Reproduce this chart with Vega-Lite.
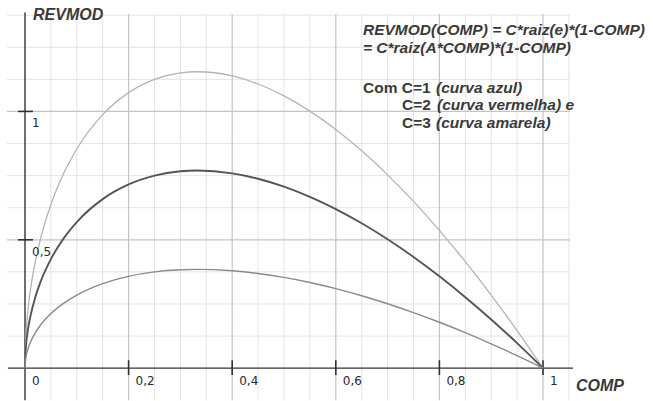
{
  "$schema": "https://vega.github.io/schema/vega-lite/v6.json",
  "width": 653,
  "height": 401,
  "autosize": {"type": "fit", "contains": "padding"},
  "padding": 0,
  "background": "white",
  "config": {"view": {"stroke": null}},
  "datasets": {
    "one": [{"k": 1}],
    "minorX": [{"v":0.05},{"v":0.1},{"v":0.15},{"v":0.25},{"v":0.3},{"v":0.35},{"v":0.45},{"v":0.5},{"v":0.55},{"v":0.65},{"v":0.7},{"v":0.75},{"v":0.85},{"v":0.9},{"v":0.95},{"v":1.05}],
    "majorX": [{"v":0.2},{"v":0.4},{"v":0.6},{"v":0.8},{"v":1.0}],
    "minorY": [{"v":0.125},{"v":0.25},{"v":0.375},{"v":0.625},{"v":0.75},{"v":0.875},{"v":1.125},{"v":1.25},{"v":1.375}],
    "majorY": [{"v":0.5},{"v":1.0}],
    "curves": [
      {"x":0,"c1":0,"c2":0,"c3":0},
      {"x":0.0005,"c1":0.02235,"c2":0.0447,"c3":0.06705},
      {"x":0.002,"c1":0.04463,"c2":0.08926,"c3":0.13389},
      {"x":0.005,"c1":0.07036,"c2":0.14072,"c3":0.21108},
      {"x":0.01,"c1":0.099,"c2":0.198,"c3":0.297},
      {"x":0.02,"c1":0.13859,"c2":0.27718,"c3":0.41577},
      {"x":0.03,"c1":0.16801,"c2":0.33602,"c3":0.50403},
      {"x":0.05,"c1":0.21243,"c2":0.42486,"c3":0.63729},
      {"x":0.075,"c1":0.25332,"c2":0.50664,"c3":0.75996},
      {"x":0.1,"c1":0.2846,"c2":0.5692,"c3":0.8538},
      {"x":0.15,"c1":0.3292,"c2":0.6584,"c3":0.9876},
      {"x":0.2,"c1":0.35777,"c2":0.71554,"c3":1.07331},
      {"x":0.25,"c1":0.375,"c2":0.75,"c3":1.125},
      {"x":0.3,"c1":0.38341,"c2":0.76682,"c3":1.15023},
      {"x":0.333,"c1":0.3849,"c2":0.7698,"c3":1.1547},
      {"x":0.4,"c1":0.37947,"c2":0.75894,"c3":1.13841},
      {"x":0.45,"c1":0.36895,"c2":0.7379,"c3":1.10685},
      {"x":0.5,"c1":0.35355,"c2":0.7071,"c3":1.06065},
      {"x":0.55,"c1":0.33373,"c2":0.66746,"c3":1.00119},
      {"x":0.6,"c1":0.30984,"c2":0.61968,"c3":0.92952},
      {"x":0.65,"c1":0.28218,"c2":0.56436,"c3":0.84654},
      {"x":0.7,"c1":0.251,"c2":0.502,"c3":0.753},
      {"x":0.75,"c1":0.21651,"c2":0.43302,"c3":0.64953},
      {"x":0.8,"c1":0.17889,"c2":0.35778,"c3":0.53667},
      {"x":0.85,"c1":0.13829,"c2":0.27658,"c3":0.41487},
      {"x":0.9,"c1":0.09487,"c2":0.18974,"c3":0.28461},
      {"x":0.95,"c1":0.04873,"c2":0.09746,"c3":0.14619},
      {"x":1.0,"c1":0,"c2":0,"c3":0}
    ],
    "xlabels": [{"v":0,"t":"0"},{"v":0.2,"t":"0,2"},{"v":0.4,"t":"0,4"},{"v":0.6,"t":"0,6"},{"v":0.8,"t":"0,8"},{"v":1.0,"t":"1"}],
    "ylabels": [{"v":0.5,"t":"0,5"},{"v":1.0,"t":"1"}],
    "italicText": [
      {"tx":0.01544,"ty":1.3566,"t":"REVMOD","sz":"big"},
      {"tx":1.0637,"ty":-0.0891,"t":"COMP","sz":"big"},
      {"tx":0.6525,"ty":1.2984,"t":"REVMOD(COMP) = C*raiz(e)*(1-COMP)","sz":"small"},
      {"tx":0.6525,"ty":1.2287,"t":"= C*raiz(A*COMP)*(1-COMP)","sz":"small"},
      {"tx":0.7934,"ty":1.0736,"t":"(curva azul)","sz":"small"},
      {"tx":0.7954,"ty":1.0039,"t":"(curva vermelha) e","sz":"small"},
      {"tx":0.7934,"ty":0.9341,"t":"(curva amarela)","sz":"small"}
    ],
    "uprightText": [
      {"tx":0.6525,"ty":1.0736,"t":"Com C=1"},
      {"tx":0.7278,"ty":1.0039,"t":"C=2"},
      {"tx":0.7278,"ty":0.9341,"t":"C=3"}
    ]
  },
  "layer": [
    {
      "data": {"name": "minorX"},
      "mark": {"type": "rule", "color": "#e4e4e4", "strokeWidth": 1},
      "encoding": {
        "x": {"field": "v", "type": "quantitative", "scale": {"domain": [-0.04826, 1.21236], "nice": false, "zero": false}, "axis": null},
        "y": {"datum": -0.125, "type": "quantitative", "scale": {"domain": [-0.12016, 1.43411], "nice": false, "zero": false}, "axis": null},
        "y2": {"datum": 1.38}
      }
    },
    {
      "data": {"name": "minorY"},
      "mark": {"type": "rule", "color": "#e4e4e4", "strokeWidth": 1},
      "encoding": {
        "y": {"field": "v", "type": "quantitative", "scale": {"domain": [-0.12016, 1.43411], "nice": false, "zero": false}, "axis": null},
        "x": {"datum": -0.035, "type": "quantitative", "scale": {"domain": [-0.04826, 1.21236], "nice": false, "zero": false}, "axis": null},
        "x2": {"datum": 1.052}
      }
    },
    {
      "data": {"name": "majorX"},
      "mark": {"type": "rule", "color": "#c4c4c4", "strokeWidth": 1.2},
      "encoding": {
        "x": {"field": "v", "type": "quantitative", "scale": {"domain": [-0.04826, 1.21236], "nice": false, "zero": false}, "axis": null},
        "y": {"datum": -0.125, "type": "quantitative", "scale": {"domain": [-0.12016, 1.43411], "nice": false, "zero": false}, "axis": null},
        "y2": {"datum": 1.38}
      }
    },
    {
      "data": {"name": "majorY"},
      "mark": {"type": "rule", "color": "#c4c4c4", "strokeWidth": 1.2},
      "encoding": {
        "y": {"field": "v", "type": "quantitative", "scale": {"domain": [-0.12016, 1.43411], "nice": false, "zero": false}, "axis": null},
        "x": {"datum": -0.035, "type": "quantitative", "scale": {"domain": [-0.04826, 1.21236], "nice": false, "zero": false}, "axis": null},
        "x2": {"datum": 1.052}
      }
    },
    {
      "data": {"name": "one"},
      "mark": {"type": "rule", "color": "#333333", "strokeWidth": 1.4},
      "encoding": {
        "y": {"datum": 0, "type": "quantitative", "scale": {"domain": [-0.12016, 1.43411], "nice": false, "zero": false}, "axis": null},
        "x": {"datum": -0.033, "type": "quantitative", "scale": {"domain": [-0.04826, 1.21236], "nice": false, "zero": false}, "axis": null},
        "x2": {"datum": 1.058}
      }
    },
    {
      "data": {"name": "one"},
      "mark": {"type": "rule", "color": "#333333", "strokeWidth": 1.4},
      "encoding": {
        "x": {"datum": 0, "type": "quantitative", "scale": {"domain": [-0.04826, 1.21236], "nice": false, "zero": false}, "axis": null},
        "y": {"datum": -0.125, "type": "quantitative", "scale": {"domain": [-0.12016, 1.43411], "nice": false, "zero": false}, "axis": null},
        "y2": {"datum": 1.385}
      }
    },
    {
      "data": {"name": "majorX"},
      "mark": {"type": "rule", "color": "#333333", "strokeWidth": 1.6},
      "encoding": {
        "x": {"field": "v", "type": "quantitative", "scale": {"domain": [-0.04826, 1.21236], "nice": false, "zero": false}, "axis": null},
        "y": {"datum": -0.027, "type": "quantitative", "scale": {"domain": [-0.12016, 1.43411], "nice": false, "zero": false}, "axis": null},
        "y2": {"datum": 0.031}
      }
    },
    {
      "data": {"name": "majorY"},
      "mark": {"type": "rule", "color": "#333333", "strokeWidth": 1.6},
      "encoding": {
        "y": {"field": "v", "type": "quantitative", "scale": {"domain": [-0.12016, 1.43411], "nice": false, "zero": false}, "axis": null},
        "x": {"datum": -0.0135, "type": "quantitative", "scale": {"domain": [-0.04826, 1.21236], "nice": false, "zero": false}, "axis": null},
        "x2": {"datum": 0.0154}
      }
    },
    {
      "data": {"name": "curves"},
      "mark": {"type": "line", "color": "#b4b4b4", "strokeWidth": 1.3, "interpolate": "monotone"},
      "encoding": {
        "x": {"field": "x", "type": "quantitative", "scale": {"domain": [-0.04826, 1.21236], "nice": false, "zero": false}, "axis": null},
        "y": {"field": "c3", "type": "quantitative", "scale": {"domain": [-0.12016, 1.43411], "nice": false, "zero": false}, "axis": null}
      }
    },
    {
      "data": {"name": "curves"},
      "mark": {"type": "line", "color": "#555555", "strokeWidth": 1.9, "interpolate": "monotone"},
      "encoding": {
        "x": {"field": "x", "type": "quantitative", "scale": {"domain": [-0.04826, 1.21236], "nice": false, "zero": false}, "axis": null},
        "y": {"field": "c2", "type": "quantitative", "scale": {"domain": [-0.12016, 1.43411], "nice": false, "zero": false}, "axis": null}
      }
    },
    {
      "data": {"name": "curves"},
      "mark": {"type": "line", "color": "#8a8a8a", "strokeWidth": 1.4, "interpolate": "monotone"},
      "encoding": {
        "x": {"field": "x", "type": "quantitative", "scale": {"domain": [-0.04826, 1.21236], "nice": false, "zero": false}, "axis": null},
        "y": {"field": "c1", "type": "quantitative", "scale": {"domain": [-0.12016, 1.43411], "nice": false, "zero": false}, "axis": null}
      }
    },
    {
      "data": {"name": "xlabels"},
      "mark": {"type": "text", "font": "DejaVu Sans", "fontSize": 12, "color": "#2a2a2a", "align": "left", "baseline": "alphabetic", "dx": 7, "dy": 17},
      "encoding": {
        "x": {"field": "v", "type": "quantitative", "scale": {"domain": [-0.04826, 1.21236], "nice": false, "zero": false}, "axis": null},
        "y": {"datum": 0, "type": "quantitative", "scale": {"domain": [-0.12016, 1.43411], "nice": false, "zero": false}, "axis": null},
        "text": {"field": "t"}
      }
    },
    {
      "data": {"name": "ylabels"},
      "mark": {"type": "text", "font": "DejaVu Sans", "fontSize": 12, "color": "#2a2a2a", "align": "left", "baseline": "alphabetic", "dx": 7, "dy": 16},
      "encoding": {
        "y": {"field": "v", "type": "quantitative", "scale": {"domain": [-0.12016, 1.43411], "nice": false, "zero": false}, "axis": null},
        "x": {"datum": 0, "type": "quantitative", "scale": {"domain": [-0.04826, 1.21236], "nice": false, "zero": false}, "axis": null},
        "text": {"field": "t"}
      }
    },
    {
      "data": {"name": "italicText"},
      "mark": {"type": "text", "font": "Liberation Sans", "fontStyle": "italic", "fontWeight": "bold", "color": "#3a3a3a", "align": "left", "baseline": "alphabetic"},
      "encoding": {
        "x": {"field": "tx", "type": "quantitative", "scale": {"domain": [-0.04826, 1.21236], "nice": false, "zero": false}, "axis": null},
        "y": {"field": "ty", "type": "quantitative", "scale": {"domain": [-0.12016, 1.43411], "nice": false, "zero": false}, "axis": null},
        "text": {"field": "t"},
        "size": {"field": "sz", "type": "nominal", "scale": {"domain": ["big", "small"], "range": [16, 15.5]}, "legend": null}
      }
    },
    {
      "data": {"name": "uprightText"},
      "mark": {"type": "text", "font": "Liberation Sans", "fontSize": 15.5, "fontWeight": "bold", "color": "#3a3a3a", "align": "left", "baseline": "alphabetic"},
      "encoding": {
        "x": {"field": "tx", "type": "quantitative", "scale": {"domain": [-0.04826, 1.21236], "nice": false, "zero": false}, "axis": null},
        "y": {"field": "ty", "type": "quantitative", "scale": {"domain": [-0.12016, 1.43411], "nice": false, "zero": false}, "axis": null},
        "text": {"field": "t"}
      }
    }
  ]
}
